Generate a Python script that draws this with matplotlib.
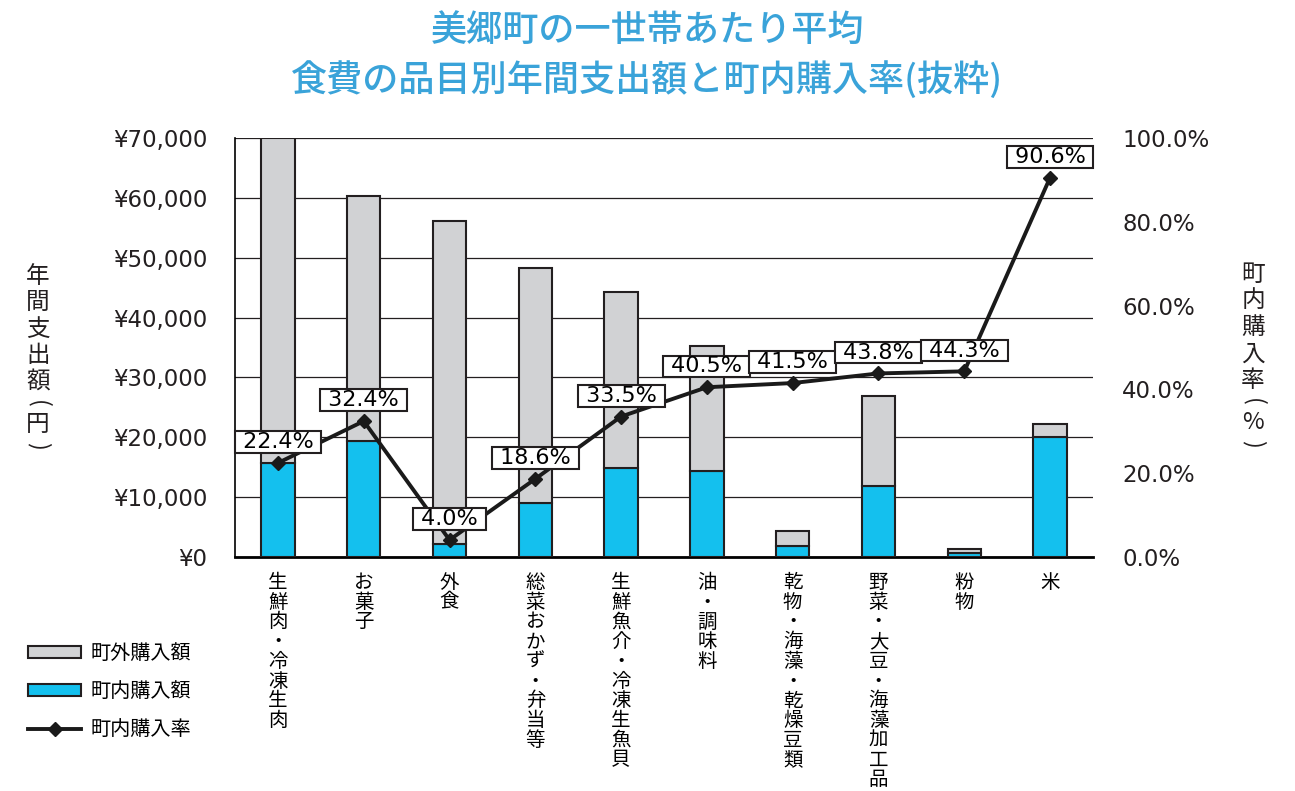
import matplotlib
matplotlib.use('Agg')
import matplotlib.pyplot as plt
from matplotlib.patches import Patch
from matplotlib.lines import Line2D
from matplotlib.ticker import FuncFormatter

plt.rcParams['font.family'] = ['Noto Sans CJK JP', 'DejaVu Sans']
num_font = ['DejaVu Sans', 'Noto Sans CJK JP']

# データ
categories = ['生鮮肉・冷凍生肉', 'お菓子', '外食', '総菜おかず・弁当等', '生鮮魚介・冷凍生魚貝',
              '油・調味料', '乾物・海藻・乾燥豆類', '野菜・大豆・海藻加工品', '粉物', '米']
total_spend = [70000, 60400, 56150, 48250, 44350, 35300, 4350, 26850, 1300, 22200]
local_spend = [15650, 19400, 2100, 8950, 14900, 14350, 1750, 11850, 550, 20100]
local_rate = [22.4, 32.4, 4.0, 18.6, 33.5, 40.5, 41.5, 43.8, 44.3, 90.6]

outside_spend = [t - l for t, l in zip(total_spend, local_spend)]

gray = '#d1d2d4'
blue = '#14c0ee'
edge = '#231f20'
title_color = '#3aa3d9'

W, H = 1295, 791
fig = plt.figure(figsize=(12.95, 7.91), dpi=100)
ax = fig.add_axes([0.1815, 0.2962, 0.6625, 0.529])

x = list(range(len(categories)))
w = 0.39
ax.bar(x, local_spend, w, color=blue, edgecolor=edge, linewidth=1.5, zorder=3)
ax.bar(x, outside_spend, w, bottom=local_spend, color=gray, edgecolor=edge, linewidth=1.5, zorder=3)

ax.set_xlim(-0.5, len(categories) - 0.5)
ax.set_ylim(0, 70000)
ax.set_yticks(range(0, 70001, 10000))
ax.yaxis.set_major_formatter(FuncFormatter(lambda v, p: f'¥{int(v):,}'))
ax.tick_params(axis='y', length=0, pad=20)
for lab in ax.get_yticklabels():
    lab.set_family(num_font)
    lab.set_fontsize(16.5)
    lab.set_color('#231f20')
ax.grid(axis='y', color='#231f20', linewidth=0.9, zorder=0)
for s in ['top', 'right']:
    ax.spines[s].set_visible(False)
ax.spines['left'].set_linewidth(1.2)
ax.spines['bottom'].set_linewidth(2)

# 縦書きの品目ラベル
ax.set_xticks(x)
ax.set_xticklabels(['\n'.join(c) for c in categories], fontsize=14, linespacing=0.92, va='top')
ax.tick_params(axis='x', length=0, pad=11)

# 町内購入率（右軸）
ax2 = ax.twinx()
ax2.set_ylim(0, 100)
ax2.set_yticks(range(0, 101, 20))
ax2.yaxis.set_major_formatter(FuncFormatter(lambda v, p: f'{v:.1f}%'))
ax2.tick_params(axis='y', length=0, pad=21)
for lab in ax2.get_yticklabels():
    lab.set_family(num_font)
    lab.set_fontsize(16.5)
    lab.set_color('#231f20')
for s in ax2.spines.values():
    s.set_visible(False)
ax2.plot(x, local_rate, color='#1a1a1a', linewidth=2.8, marker='D', markersize=7, zorder=5)
for xi, r in zip(x, local_rate):
    ax2.annotate(f' {r:.1f}% ', (xi, r), xytext=(0, 15), textcoords='offset points',
                 ha='center', va='center', fontsize=16, family=num_font,
                 bbox=dict(boxstyle='square,pad=0.04', fc='white', ec=edge, lw=1.5), zorder=6)


# 軸タイトル（縦書き、括弧だけ横倒し）
def vertical_label(xpx, top_px, s):
    y = top_px
    for ch in s:
        adv = 16 if ch in '()' else 26.5
        fig.text(xpx / W, 1 - (y + adv / 2) / H, ch, fontsize=17, ha='center', va='center',
                 rotation=-90 if ch in '()' else 0, color='#231f20')
        y += adv


vertical_label(38, 263, '年間支出額(円)')
vertical_label(1253, 261, '町内購入率(%)')

# タイトル
fig.text(0.5, 1 - 31 / 791, '美郷町の一世帯あたり平均', fontsize=26, fontweight='medium',
         color=title_color, ha='center', va='center')
fig.text(0.5, 1 - 80 / 791, '食費の品目別年間支出額と町内購入率(抜粋)', fontsize=26,
         fontweight='medium', color=title_color, ha='center', va='center')

# 凡例
handles = [Patch(facecolor=gray, edgecolor=edge, linewidth=1.5),
           Patch(facecolor=blue, edgecolor=edge, linewidth=1.5),
           Line2D([], [], color='#1a1a1a', linewidth=2.8, marker='D', markersize=7)]
fig.legend(handles, ['町外購入額', '町内購入額', '町内購入率'], loc='upper left',
           bbox_to_anchor=(0.008, 0.21), frameon=False, fontsize=14.5, handlelength=2.6,
           handleheight=0.5, labelspacing=0.85, handletextpad=0.5)

fig.savefig('out.png', dpi=100)
